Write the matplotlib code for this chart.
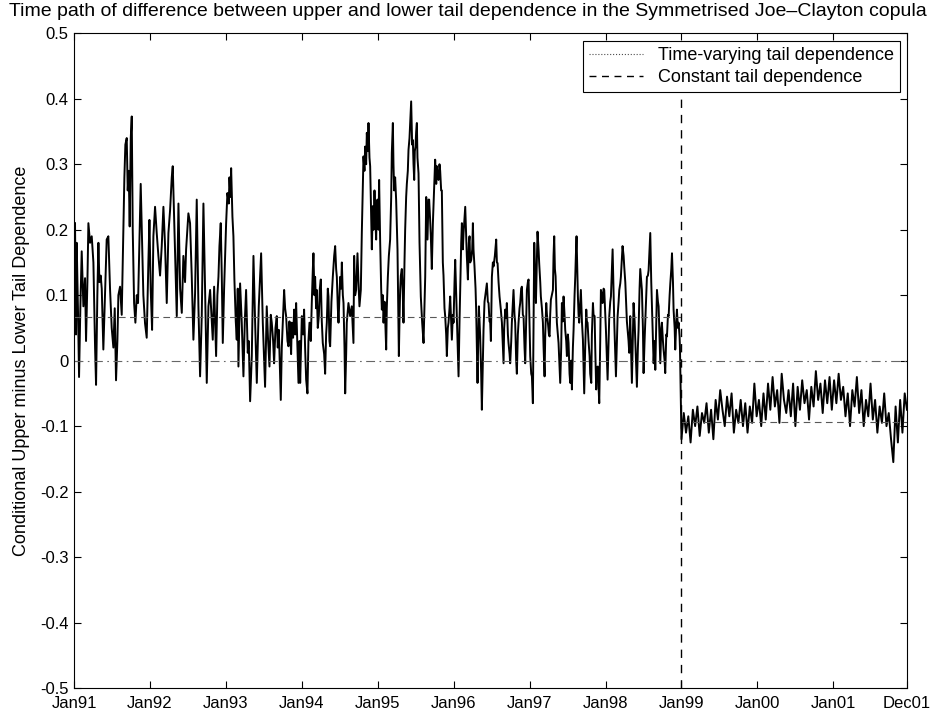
import numpy as np
import matplotlib
matplotlib.use("Agg")
import matplotlib.pyplot as plt
from matplotlib.lines import Line2D

plt.rcParams['font.family'] = ['Liberation Sans', 'DejaVu Sans']

# time axis in years since Jan 1991, values = upper minus lower tail dependence
# segment 1 : Jan91 - Oct92
t_p1 = [0.013, 0.026, 0.035, 0.053, 0.066, 0.083, 0.101, 0.123, 0.145, 0.158,
        0.176, 0.189, 0.211, 0.233, 0.255, 0.277, 0.290, 0.307, 0.321, 0.334,
        0.351, 0.365, 0.386, 0.408, 0.430, 0.452, 0.474, 0.496, 0.518, 0.536,
        0.553, 0.571, 0.584, 0.606, 0.628, 0.650, 0.663, 0.676, 0.694, 0.707,
        0.720, 0.733, 0.747, 0.760, 0.773, 0.791, 0.808, 0.826, 0.843, 0.861,
        0.878, 0.896, 0.913, 0.935, 0.957, 0.979, 0.993, 1.010, 1.028, 1.045,
        1.067, 1.089, 1.111, 1.133, 1.155, 1.177, 1.199, 1.221, 1.243, 1.265,
        1.287, 1.300, 1.318, 1.331, 1.353, 1.375, 1.397, 1.419, 1.440, 1.462,
        1.476, 1.506, 1.528, 1.550, 1.572, 1.594, 1.616, 1.638, 1.660, 1.682,
        1.704, 1.726, 1.748, 1.770, 1.792]
v_p1 = [0.21, 0.04, 0.18, 0.07, -0.025, 0.08, 0.167, 0.083, 0.126, 0.03,
        0.12, 0.21, 0.18, 0.19, 0.15, 0.02, -0.037, 0.10, 0.18, 0.12,
        0.13, 0.11, 0.017, 0.10, 0.185, 0.19, 0.11, 0.05, 0.02, 0.08,
        -0.03, 0.03, 0.10, 0.113, 0.07, 0.20, 0.28, 0.33, 0.34, 0.26,
        0.29, 0.205, 0.34, 0.373, 0.20, 0.088, 0.058, 0.10, 0.088, 0.185,
        0.27, 0.18, 0.10, 0.057, 0.035, 0.15, 0.215, 0.108, 0.047, 0.19,
        0.235, 0.195, 0.16, 0.13, 0.175, 0.235, 0.175, 0.088, 0.195, 0.23,
        0.28, 0.297, 0.22, 0.16, 0.068, 0.24, 0.11, 0.073, 0.16, 0.12,
        0.17, 0.225, 0.21, 0.13, 0.032, 0.103, 0.246, 0.083, -0.024, 0.068,
        0.24, 0.108, -0.034, 0.083, 0.108]

# segment 2 : Oct92 - Aug94
t_p2 = [1.827, 1.845, 1.871, 1.888, 1.902, 1.915, 1.932, 1.946, 1.959, 1.976,
        2.003, 2.020, 2.038, 2.047, 2.060, 2.069, 2.086, 2.099, 2.112, 2.130,
        2.143, 2.156, 2.165, 2.187, 2.209, 2.231, 2.249, 2.266, 2.288, 2.301,
        2.319, 2.341, 2.363, 2.385, 2.407, 2.433, 2.464, 2.486, 2.516, 2.538,
        2.556, 2.574, 2.591, 2.604, 2.622, 2.635, 2.653, 2.670, 2.683, 2.697,
        2.723, 2.736, 2.749, 2.767, 2.780, 2.793, 2.811, 2.824, 2.837, 2.846,
        2.859, 2.868, 2.885, 2.899, 2.912, 2.925, 2.942, 2.956, 2.969, 2.978,
        3.000, 3.017, 3.030, 3.043, 3.057, 3.074, 3.087, 3.101, 3.118, 3.131,
        3.145, 3.153, 3.166, 3.175, 3.188, 3.197, 3.210, 3.224, 3.237, 3.250,
        3.263, 3.276, 3.294, 3.307, 3.320, 3.329, 3.342, 3.351, 3.364, 3.373,
        3.390, 3.408, 3.426, 3.439, 3.452, 3.461, 3.474, 3.483, 3.496, 3.505,
        3.518, 3.527, 3.540, 3.549, 3.562, 3.571, 3.584, 3.592, 3.614, 3.636]
v_p2 = [0.032, 0.113, 0.007, 0.10, 0.128, 0.175, 0.21, 0.128, 0.027, 0.108,
        0.21, 0.256, 0.24, 0.28, 0.25, 0.294, 0.22, 0.19, 0.124, 0.06,
        0.032, 0.11, -0.009, 0.118, 0.058, -0.024, 0.06, 0.108, 0.012, 0.03,
        -0.062, 0.007, 0.16, 0.058, -0.034, 0.083, 0.164, 0.058, -0.04, 0.083,
        0.03, -0.009, 0.07, 0.058, 0.03, -0.004, 0.05, 0.068, 0.02, 0.047,
        -0.06, 0.02, 0.058, 0.108, 0.08, 0.068, 0.03, 0.022, 0.06, 0.042,
        0.01, 0.058, 0.035, 0.078, 0.04, 0.088, 0.02, -0.034, 0.03, -0.034,
        0.068, 0.04, 0.078, 0.02, -0.029, -0.05, 0.03, 0.058, 0.03, 0.088,
        0.14, 0.164, 0.10, 0.128, 0.08, 0.108, 0.05, 0.068, 0.11, 0.124,
        0.06, 0.027, 0.01, -0.02, 0.04, 0.058, 0.11, 0.098, 0.03, 0.022,
        0.09, 0.128, 0.16, 0.175, 0.14, 0.128, 0.08, 0.058, 0.10, 0.128,
        0.11, 0.15, 0.10, 0.088, 0.02, -0.05, 0.01, 0.058, 0.088, 0.068]

# segment 3 : Aug94 - Jun96
t_p3 = [3.658, 3.680, 3.689, 3.702, 3.715, 3.733, 3.746, 3.759, 3.777, 3.790,
        3.803, 3.812, 3.825, 3.834, 3.847, 3.856, 3.869, 3.878, 3.891, 3.900,
        3.913, 3.922, 3.935, 3.944, 3.957, 3.970, 3.979, 3.988, 3.996, 4.010,
        4.018, 4.032, 4.045, 4.054, 4.067, 4.076, 4.089, 4.098, 4.111, 4.119,
        4.133, 4.146, 4.163, 4.177, 4.185, 4.199, 4.207, 4.216, 4.229, 4.242,
        4.251, 4.260, 4.269, 4.278, 4.286, 4.295, 4.304, 4.317, 4.330, 4.339,
        4.352, 4.361, 4.374, 4.383, 4.396, 4.405, 4.418, 4.427, 4.440, 4.453,
        4.462, 4.471, 4.480, 4.488, 4.497, 4.506, 4.515, 4.523, 4.537, 4.550,
        4.559, 4.567, 4.585, 4.603, 4.616, 4.625, 4.638, 4.646, 4.655, 4.668,
        4.677, 4.690, 4.699, 4.712, 4.726, 4.734, 4.748, 4.756, 4.770, 4.778,
        4.791, 4.800, 4.813, 4.822, 4.835, 4.844, 4.857, 4.866, 4.879, 4.888,
        4.901, 4.910, 4.923, 4.932, 4.945, 4.954, 4.967, 4.976, 4.989, 4.998,
        5.011, 5.020, 5.033, 5.042, 5.055, 5.064, 5.077, 5.086, 5.099, 5.108,
        5.121, 5.130, 5.143, 5.152, 5.165, 5.173, 5.187, 5.200, 5.209, 5.217,
        5.231, 5.244, 5.253, 5.261, 5.274, 5.288, 5.296, 5.305, 5.314, 5.323,
        5.332, 5.340, 5.349, 5.362, 5.371, 5.384, 5.393, 5.406, 5.415, 5.428,
        5.437, 5.450, 5.459, 5.472, 5.481]
v_p3 = [0.083, 0.027, 0.16, 0.10, 0.108, 0.164, 0.12, 0.083, 0.108, 0.195,
        0.26, 0.312, 0.29, 0.327, 0.30, 0.348, 0.32, 0.363, 0.31, 0.297,
        0.22, 0.17, 0.236, 0.20, 0.26, 0.21, 0.185, 0.24, 0.246, 0.20,
        0.276, 0.18, 0.11, 0.078, 0.10, 0.058, 0.09, 0.063, 0.017, 0.08,
        0.128, 0.16, 0.185, 0.25, 0.317, 0.363, 0.30, 0.26, 0.28, 0.246,
        0.21, 0.17, 0.09, 0.007, 0.06, 0.108, 0.13, 0.14, 0.10, 0.058,
        0.15, 0.20, 0.25, 0.27, 0.29, 0.322, 0.34, 0.363, 0.396, 0.33,
        0.337, 0.30, 0.276, 0.32, 0.327, 0.35, 0.363, 0.31, 0.286, 0.18,
        0.14, 0.098, 0.058, 0.027, 0.09, 0.128, 0.25, 0.22, 0.185, 0.246,
        0.246, 0.215, 0.19, 0.14, 0.21, 0.236, 0.28, 0.307, 0.27, 0.297,
        0.28, 0.276, 0.30, 0.29, 0.26, 0.26, 0.15, 0.13, 0.08, 0.068,
        0.04, 0.007, 0.05, 0.058, 0.08, 0.098, 0.06, 0.032, 0.07, 0.058,
        0.12, 0.154, 0.10, 0.058, 0.01, -0.024, 0.06, 0.108, 0.18, 0.21,
        0.17, 0.195, 0.22, 0.235, 0.19, 0.16, 0.124, 0.18, 0.19, 0.15,
        0.154, 0.17, 0.21, 0.17, 0.144, 0.11, 0.078, 0.02, -0.034, 0.03,
        0.083, 0.06, 0.037, -0.02, -0.075, 0.0, 0.047, 0.09, 0.098, 0.11,
        0.118, 0.09, 0.088, 0.06, 0.058]

# segment 4 : Jun96 - Apr98
t_p4 = [5.490, 5.503, 5.516, 5.525, 5.542, 5.560, 5.569, 5.578, 5.591, 5.604,
        5.621, 5.635, 5.648, 5.657, 5.665, 5.679, 5.692, 5.700, 5.714, 5.722,
        5.736, 5.744, 5.758, 5.766, 5.780, 5.788, 5.801, 5.810, 5.823, 5.832,
        5.845, 5.854, 5.867, 5.876, 5.889, 5.898, 5.911, 5.920, 5.933, 5.942,
        5.955, 5.964, 5.977, 5.986, 5.999, 6.008, 6.021, 6.030, 6.043, 6.052,
        6.061, 6.074, 6.083, 6.096, 6.104, 6.118, 6.126, 6.140, 6.148, 6.162,
        6.175, 6.184, 6.197, 6.206, 6.219, 6.228, 6.241, 6.254, 6.263, 6.271,
        6.280, 6.293, 6.307, 6.315, 6.324, 6.333, 6.342, 6.351, 6.359, 6.372,
        6.381, 6.394, 6.403, 6.416, 6.425, 6.438, 6.447, 6.460, 6.469, 6.482,
        6.491, 6.504, 6.513, 6.526, 6.535, 6.548, 6.557, 6.570, 6.579, 6.592,
        6.601, 6.609, 6.618, 6.627, 6.636, 6.645, 6.653, 6.667, 6.675, 6.689,
        6.702, 6.711, 6.719, 6.732, 6.746, 6.754, 6.763, 6.776, 6.790, 6.798,
        6.812, 6.820, 6.834, 6.842, 6.856, 6.864, 6.877, 6.886, 6.899, 6.908,
        6.917, 6.930, 6.939, 6.952, 6.961, 6.974, 6.983, 6.996, 7.005, 7.018,
        7.027, 7.040, 7.049, 7.062, 7.071, 7.084, 7.093, 7.106, 7.115, 7.128,
        7.137, 7.150, 7.159, 7.172, 7.181, 7.194, 7.202, 7.216, 7.224, 7.238,
        7.246, 7.260, 7.268, 7.281, 7.290, 7.303, 7.312, 7.325]
v_p4 = [0.03, 0.128, 0.15, 0.144, 0.16, 0.185, 0.15, 0.149, 0.12, 0.098,
        0.078, 0.058, 0.02, -0.004, 0.05, 0.078, 0.065, 0.088, 0.04, 0.027,
        0.01, -0.004, 0.03, 0.058, 0.09, 0.108, 0.07, 0.058, 0.0, -0.02,
        0.04, 0.058, 0.08, 0.088, 0.11, 0.113, 0.07, 0.068, 0.02, -0.004,
        0.06, 0.108, 0.12, 0.124, 0.05, 0.007, -0.02, -0.024, -0.065, 0.06,
        0.18, 0.12, 0.088, 0.16, 0.197, 0.17, 0.149, 0.12, 0.098, 0.08,
        0.058, 0.02, -0.024, 0.04, 0.088, 0.07, 0.058, 0.04, 0.037, 0.07,
        0.093, 0.10, 0.108, 0.16, 0.19, 0.14, 0.129, 0.09, 0.058, 0.04,
        0.027, -0.01, -0.034, 0.02, 0.088, 0.06, 0.098, 0.07, 0.047, 0.03,
        0.007, 0.04, 0.027, -0.02, -0.034, 0.0, -0.044, 0.02, 0.047, 0.10,
        0.128, 0.16, 0.19, 0.14, 0.098, 0.07, 0.058, 0.09, 0.108, 0.06,
        0.032, -0.01, -0.05, 0.02, 0.078, 0.06, 0.058, 0.03, 0.007, -0.02,
        -0.034, 0.04, 0.088, 0.07, 0.068, 0.02, -0.044, -0.01, -0.009, -0.04,
        -0.065, 0.03, 0.108, 0.10, 0.088, 0.11, 0.108, 0.07, 0.047, 0.0,
        -0.029, 0.03, 0.068, 0.09, 0.098, 0.14, 0.17, 0.10, 0.058, 0.01,
        -0.024, 0.03, 0.068, 0.09, 0.108, 0.118, 0.128, 0.16, 0.175, 0.16,
        0.144, 0.12, 0.098, 0.06, 0.047, 0.03, 0.012, 0.068]

# segment 5 : Apr98 - Dec98
t_p5 = [7.347, 7.361, 7.369, 7.383, 7.391, 7.404, 7.413, 7.426, 7.435, 7.448,
        7.457, 7.470, 7.479, 7.492, 7.501, 7.514, 7.523, 7.536, 7.545, 7.558,
        7.567, 7.580, 7.589, 7.602, 7.611, 7.624, 7.633, 7.646, 7.655, 7.668,
        7.677, 7.690, 7.699, 7.712, 7.721, 7.734, 7.742, 7.756, 7.764, 7.778,
        7.786, 7.800, 7.809, 7.822, 7.831, 7.844, 7.853, 7.866, 7.875, 7.888,
        7.896, 7.910, 7.918, 7.932, 7.940, 7.953, 7.962, 7.975, 7.980]
v_p5 = [-0.034, 0.04, 0.088, 0.06, 0.032, -0.01, -0.04, 0.02, 0.047, 0.11,
        0.14, 0.12, 0.108, 0.05, -0.019, 0.03, 0.058, 0.10, 0.128, 0.13,
        0.138, 0.17, 0.195, 0.12, 0.083, 0.03, -0.004, 0.03, -0.014, 0.06,
        0.108, 0.09, 0.083, 0.03, -0.004, 0.05, 0.058, 0.03, 0.017, 0.0,
        -0.019, 0.04, 0.037, 0.07, 0.068, 0.10, 0.118, 0.14, 0.164, 0.12,
        0.078, 0.05, 0.017, 0.06, 0.078, 0.05, 0.058, 0.037, 0.02]

# segment 6 : Jan99 - Dec01 (after the break), sampled every 0.03 years
v_p6 = [-0.12, -0.08, -0.11, -0.085, -0.125, -0.075, -0.10, -0.07, -0.115, -0.08,
        -0.095, -0.065, -0.11, -0.075, -0.12, -0.06, -0.09, -0.045, -0.075, -0.10,
        -0.055, -0.085, -0.05, -0.11, -0.075, -0.095, -0.06, -0.10, -0.065, -0.11,
        -0.07, -0.095, -0.035, -0.085, -0.06, -0.10, -0.05, -0.09, -0.035, -0.075,
        -0.025, -0.07, -0.045, -0.095, -0.02, -0.06, -0.08, -0.045, -0.085, -0.035,
        -0.10, -0.04, -0.075, -0.03, -0.065, -0.045, -0.09, -0.04, -0.07, -0.016,
        -0.06, -0.035, -0.08, -0.03, -0.065, -0.025, -0.075, -0.03, -0.065, -0.02,
        -0.06, -0.04, -0.085, -0.05, -0.10, -0.045, -0.07, -0.025, -0.08, -0.045,
        -0.10, -0.06, -0.085, -0.035, -0.09, -0.06, -0.11, -0.07, -0.095, -0.05,
        -0.10, -0.08, -0.12, -0.155, -0.07, -0.125, -0.06, -0.11, -0.05, -0.075]
t_p6 = np.round(8.0 + 0.03 * np.arange(len(v_p6)), 3)

# constant tail dependence before / after the break
break_year = 8.0
const_pre = 0.066
const_post = -0.093
x_end = 10.97

tick_pos = [0, 1, 2, 3, 4, 5, 6, 7, 8, 9, 10, 10.97]
tick_lab = ['Jan91', 'Jan92', 'Jan93', 'Jan94', 'Jan95', 'Jan96', 'Jan97',
            'Jan98', 'Jan99', 'Jan00', 'Jan01', 'Dec01']
ytick_pos = [-0.5, -0.4, -0.3, -0.2, -0.1, 0, 0.1, 0.2, 0.3, 0.4, 0.5]
ytick_lab = ['-0.5', '-0.4', '-0.3', '-0.2', '-0.1', '0', '0.1', '0.2', '0.3',
             '0.4', '0.5']

t_all = np.concatenate([t_p1, t_p2, t_p3, t_p4, t_p5, t_p6])
v_all = np.concatenate([v_p1, v_p2, v_p3, v_p4, v_p5, v_p6])

fig = plt.figure(figsize=(9.36, 7.18), dpi=100)
ax = fig.add_axes([0.0791, 0.0418, 0.8899, 0.9118])

ax.plot(t_all, v_all, color='black', lw=1.4)
ax.plot([0, break_year], [const_pre, const_pre], color='0.35', lw=0.8,
        ls=(0, (6, 4)))
ax.plot([break_year, x_end], [const_post, const_post], color='0.35', lw=0.8,
        ls=(0, (6, 4)))
ax.plot([0, x_end], [0, 0], color='0.4', lw=0.8, ls=(0, (8, 4, 1.5, 4)))
ax.plot([break_year, break_year], [-0.5, 0.4], color='black', lw=1.0,
        ls=(0, (6, 5)))

ax.set_xlim(0, x_end)
ax.set_ylim(-0.5, 0.5)
ax.set_yticks(ytick_pos)
ax.set_yticklabels(ytick_lab)
ax.set_xticks(tick_pos)
ax.set_xticklabels(tick_lab)
ax.tick_params(direction='in', top=True, right=True, length=5, width=0.8,
               labelsize=12)
ax.tick_params(axis='x', pad=6)
ax.tick_params(axis='y', pad=4)
for s in ax.spines.values():
    s.set_linewidth(0.8)

ax.set_ylabel('Conditional Upper minus Lower Tail Dependence', fontsize=13,
              labelpad=7)
fig.text(0.5, 0.984, 'Time path of difference between upper and lower tail '
         'dependence in the Symmetrised Joe\u2013Clayton copula',
         fontsize=14, ha='center', va='center')

handles = [Line2D([], [], color='0.3', lw=0.8, ls=':'),
           Line2D([], [], color='black', lw=1.0, ls=(0, (5, 4)))]
leg = ax.legend(handles, ['Time-varying tail dependence',
                          'Constant tail dependence'],
                loc='upper right', bbox_to_anchor=(0.9916, 0.988),
                fontsize=13, fancybox=False, framealpha=1,
                edgecolor='black', borderaxespad=0,
                handlelength=3.0, borderpad=0.35, labelspacing=0.25)
leg.get_frame().set_linewidth(0.8)

fig.savefig('out.png', dpi=100)
